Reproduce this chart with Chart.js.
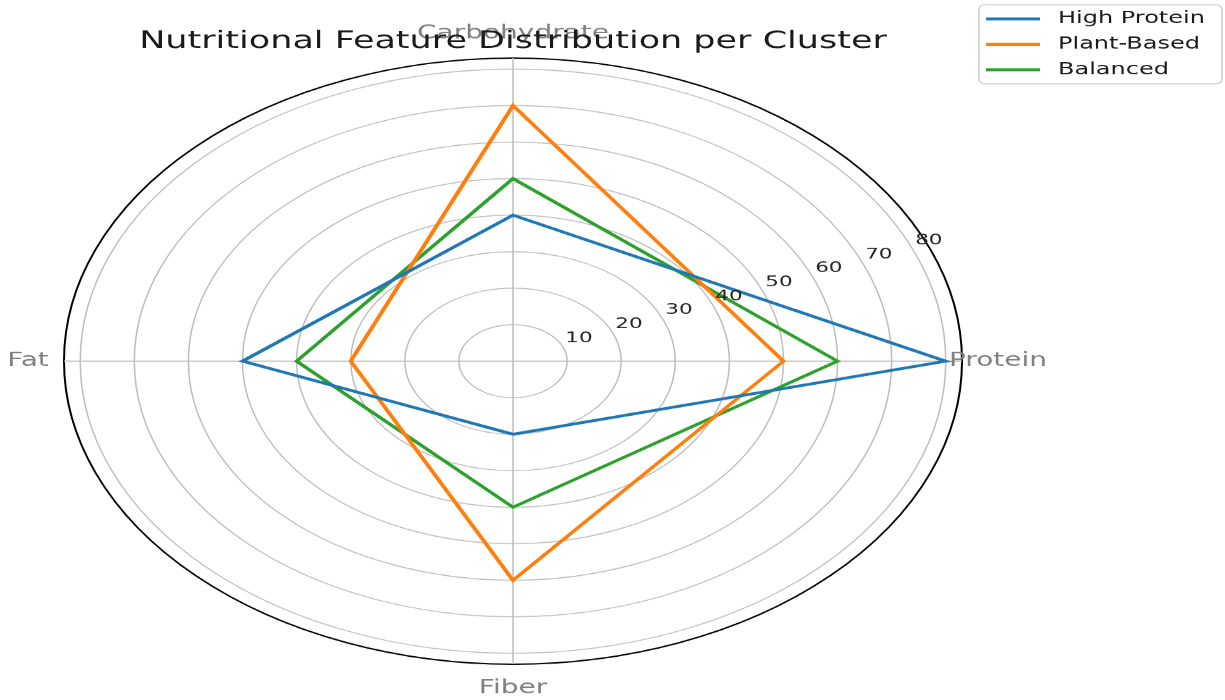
<!DOCTYPE html>
<html>
<head>
<meta charset="utf-8">
<script src="https://cdn.jsdelivr.net/npm/chart.js@4/dist/chart.umd.min.js"></script>
<style>
  html, body { margin: 0; padding: 0; background: #fff; overflow: hidden; }
</style>
</head>
<body>
<!-- matplotlib figure was squeezed vertically, so the drawing is stretched the same way -->
<canvas id="chart" width="1225" height="1037" style="width:1225px;height:700px;display:block"></canvas>
<script>
// clockwise from the right: Protein, Fiber, Fat, Carbohydrate
const categories = ['Protein', 'Fiber', 'Fat', 'Carbohydrate'];
const highProtein = [80, 20, 50, 40];
const plantBased = [50, 60, 30, 70];
const balanced = [60, 40, 40, 50];
const seriesNames = ['High Protein', 'Plant-Based', 'Balanced'];
const seriesColors = ['#1f77b4', '#ff7f0e', '#2ca02c'];
const tickValues = [10, 20, 30, 40, 50, 60, 70, 80];
const rMax = 83;
const chartTitle = 'Nutritional Feature Distribution per Cluster';

const FONT = '"DejaVu Sans", sans-serif';

const polarDecor = {
    id: 'polarDecor',
    afterDatasetsDraw(chart) {
        const ctx = chart.ctx;
        const scale = chart.scales.r;
        const xc = scale.xCenter, yc = scale.yCenter;
        ctx.save();

        // radial tick labels along 22.5 degrees
        const a = 22.5 * Math.PI / 180;
        ctx.font = '21.5px ' + FONT;
        ctx.fillStyle = '#262626';
        ctx.textAlign = 'center';
        ctx.textBaseline = 'middle';
        tickValues.forEach(v => {
            const d = scale.getDistanceFromCenterForValue(v);
            ctx.fillText(String(v), xc + d * Math.cos(a) + 16, yc - d * Math.sin(a) - 13);
        });

        // category labels outside the spine
        ctx.font = '28px ' + FONT;
        ctx.fillStyle = '#808080';
        categories.forEach((c, i) => {
            const p = scale.getPointPosition(i, scale.drawingArea + 36);
            ctx.fillText(c, p.x, p.y);
        });

        // title
        ctx.font = '35px ' + FONT;
        ctx.fillStyle = '#1a1a1a';
        ctx.textBaseline = 'alphabetic';
        ctx.fillText(chartTitle, xc, 71);

        // legend box, top right
        ctx.fillStyle = 'rgba(255,255,255,0.8)';
        ctx.strokeStyle = '#cccccc';
        ctx.lineWidth = 1.5;
        ctx.beginPath();
        ctx.roundRect(979, 7, 243, 117, 6);
        ctx.fill();
        ctx.stroke();
        ctx.font = '24px ' + FONT;
        ctx.textAlign = 'left';
        ctx.textBaseline = 'middle';
        chart.data.datasets.forEach((ds, i) => {
            const y = 28 + i * 37.7;
            ctx.strokeStyle = ds.borderColor;
            ctx.lineWidth = 4.4;
            ctx.beginPath();
            ctx.moveTo(986, y);
            ctx.lineTo(1040, y);
            ctx.stroke();
            ctx.fillStyle = '#1a1a1a';
            ctx.fillText(ds.label, 1058, y);
        });
        ctx.restore();
    }
};

const seriesData = [highProtein, plantBased, balanced];

new Chart(document.getElementById('chart'), {
    type: 'radar',
    data: {
        labels: categories,
        datasets: seriesData.map((d, i) => ({
            label: seriesNames[i],
            data: d,
            borderColor: seriesColors[i],
            backgroundColor: 'transparent',
            borderWidth: 4.2,
            fill: false,
            pointRadius: 0,
            tension: 0
        }))
    },
    options: {
        responsive: false,
        animation: false,
        layout: { padding: { left: 64, right: 263, top: 86, bottom: 53 } },
        plugins: {
            legend: { display: false },
            title: { display: false },
            tooltip: { enabled: false }
        },
        scales: {
            r: {
                min: 0,
                max: rMax,
                startAngle: 90,
                afterBuildTicks: (s) => {
                    s.ticks = [0].concat(tickValues, [rMax]).map(v => ({ value: v }));
                },
                ticks: { display: false },
                pointLabels: { display: false },
                grid: {
                    circular: true,
                    color: (c) => c.tick && c.tick.value === rMax ? '#000000' : '#bdbdbd',
                    lineWidth: (c) => c.tick && c.tick.value === rMax ? 2 : 1.5
                },
                angleLines: { color: '#bdbdbd', lineWidth: 1.5 }
            }
        }
    },
    plugins: [polarDecor]
});
</script>
</body>
</html>
